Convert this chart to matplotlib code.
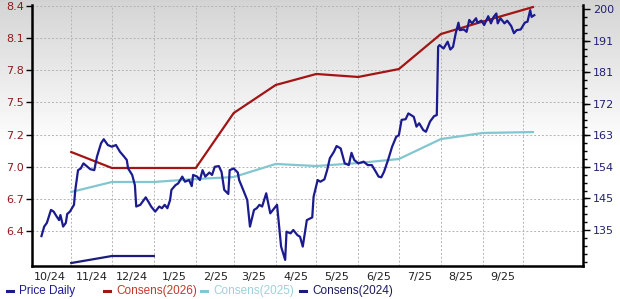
import numpy as np
import pandas as pd
import matplotlib
matplotlib.use('Agg')
import matplotlib.pyplot as plt
import matplotlib.dates as mdates
from matplotlib.lines import Line2D
from matplotlib.ticker import FixedLocator

start = pd.Timestamp('2024-10-01')

# ---price daily (days after 2024-10-01, $, right axis)---
price_day = [9, 11, 13, 16, 18, 20, 22, 23, 25, 27, 28, 30, 33, 34, 36, 38, 40, 43, 45, 48,
             50, 53, 55, 58, 61, 64, 67, 70, 72, 73, 76, 78, 79, 82, 86, 88, 90, 93, 96, 98,
             100, 102, 104, 105, 108, 110, 113, 115, 118, 120, 121, 124, 126, 128, 130, 133, 135, 137, 140, 142,
             144, 147, 148, 151, 154, 155, 158, 161, 163, 166, 168, 170, 172, 175, 178, 181, 183, 186, 189, 190,
             193, 195, 198, 200, 202, 205, 209, 210, 213, 215, 218, 220, 222, 225, 227, 230, 233, 236, 238, 240,
             243, 247, 250, 253, 256, 258, 260, 262, 265, 268, 271, 273, 275, 278, 280, 282, 284, 286, 288, 291,
             293, 296, 299, 301, 302, 303, 306, 309, 311, 313, 315, 317, 318, 321, 323, 325, 327, 330, 331, 334,
             336, 339, 341, 343, 345, 346, 348, 351, 353, 356, 358, 360, 363, 366, 368, 370, 371, 373]
price_val = [133.2, 136.0, 137.1, 140.9, 140.4, 139.1, 137.9, 139.4, 136.0, 137.1, 139.7, 140.4, 142.4, 146.8, 152.6, 153.1, 154.6, 153.6, 152.9, 152.6,
             156.6, 160.5, 161.7, 160.0, 159.5, 160.0, 158.0, 156.6, 155.6, 153.1, 151.2, 148.2, 141.9, 142.4, 144.6, 143.3, 141.9, 140.4, 141.9, 141.4,
             142.4, 141.4, 143.8, 146.8, 148.2, 148.7, 150.7, 149.2, 149.7, 147.9, 151.2, 150.7, 149.7, 152.6, 150.7, 151.9, 151.2, 153.6, 153.8, 152.1,
             146.8, 145.6, 152.6, 153.1, 151.9, 149.7, 146.8, 143.8, 136.0, 140.9, 141.4, 142.4, 141.9, 145.8, 139.9, 141.4, 142.4, 130.1, 126.2, 134.5,
             134.0, 135.0, 133.5, 133.0, 130.1, 137.9, 138.7, 144.8, 149.7, 149.2, 149.9, 152.6, 156.1, 158.0, 159.7, 159.0, 154.6, 154.1, 157.7, 155.6,
             154.6, 155.1, 154.1, 154.1, 152.1, 150.7, 150.5, 152.1, 155.6, 159.5, 162.4, 162.9, 167.4, 167.6, 169.3, 168.8, 168.3, 165.4, 166.4, 164.4,
             163.9, 166.9, 168.5, 168.8, 188.9, 189.4, 188.4, 190.4, 188.1, 188.9, 192.9, 196.0, 193.8, 194.0, 193.3, 196.8, 195.8, 197.3, 196.0, 196.6,
             195.3, 197.9, 195.8, 197.7, 198.7, 195.8, 197.3, 195.8, 196.6, 195.0, 192.9, 193.8, 194.0, 196.0, 196.3, 199.7, 197.7, 198.2]

# ---consensus EPS (left axis)---
cons_day = [31, 61, 92, 123, 151, 182, 212, 243, 273, 304, 335, 372]
cons_2026 = [7.128, 6.989, 6.989, 6.989, 7.468, 7.712, 7.808, 7.782, 7.851, 8.156, 8.265, 8.391]
cons_2025 = [6.780, 6.867, 6.867, 6.893, 6.910, 7.024, 7.006, 7.032, 7.067, 7.241, 7.294, 7.302]
cons24_day = [31, 61, 92]
cons_2024 = [6.161, 6.222, 6.222]

left_ticks = [6.44, 6.72, 7.00, 7.28, 7.56, 7.84, 8.12, 8.40]
left_labels = ['6.4', '6.7', '7.0', '7.2', '7.5', '7.8', '8.1', '8.4']
right_ticks = [135.0, 144.29, 153.57, 162.86, 172.14, 181.43, 190.71, 200.0]
right_labels = ['135', '145', '154', '163', '172', '181', '191', '200']
month_labels = ['10/24', '11/24', '12/24', '1/25', '2/25', '3/25', '4/25', '5/25', '6/25', '7/25', '8/25', '9/25']

legend_names = ['Price Daily', 'Consens(2026)', 'Consens(2025)', 'Consens(2024)']
c_price = '#1b1b8f'
c_26 = '#a31515'
c_25 = '#82c6cf'
c_24 = '#1c1c7e'

def to_dates(days):
    return start + pd.to_timedelta(days, unit='D')

fig = plt.figure(figsize=(6.2, 2.99), dpi=100)

# background gradient
bg = fig.add_axes([0, 0, 1, 1], zorder=-10)
rows = np.linspace(0, 1, 299)
shade = np.clip(0.83 + 0.17 * rows / 0.5, 0, 1).reshape(-1, 1)
bg.imshow(shade, cmap='gray', vmin=0, vmax=1, extent=[0, 1, 0, 1], aspect='auto')
bg.axis('off')

ax = fig.add_axes([32/620, 33/299, 551/620, 261/299])
ax.set_facecolor('none')
ax2 = ax.twinx()

ax.plot(to_dates(cons_day), cons_2026, color=c_26, lw=1.6, zorder=3)
ax.plot(to_dates(cons_day), cons_2025, color=c_25, lw=1.6, zorder=3)
ax.plot(to_dates(cons24_day), cons_2024, color=c_24, lw=1.6, zorder=3)
ax2.plot(to_dates(price_day), price_val, color=c_price, lw=1.6)

ax.set_xlim(to_dates([2])[0], to_dates([409])[0])
ax.set_ylim(6.135, 8.409)
ax2.set_ylim(124.4, 201.2)

# x axis: labels mid-month, grid on month starts
mid = pd.date_range('2024-10-01', '2025-09-01', freq='MS') + pd.Timedelta(days=15)
bounds = pd.date_range('2024-11-01', '2025-10-01', freq='MS')
ax.xaxis.set_major_locator(FixedLocator(mdates.date2num(mid)))
ax.set_xticklabels(month_labels)
ax.xaxis.set_minor_locator(FixedLocator(mdates.date2num(bounds)))
ax.tick_params(axis='x', which='both', length=0, pad=4, labelsize=8, labelcolor='#222222')

ax.yaxis.set_major_locator(FixedLocator(left_ticks))
ax.set_yticklabels(left_labels)
ax.tick_params(axis='y', length=4, width=1, pad=2, labelsize=8, labelcolor='#8b1c1c')

ax2.yaxis.set_major_locator(FixedLocator(right_ticks))
ax2.set_yticklabels(right_labels)
ax2.yaxis.set_minor_locator(FixedLocator(list(np.arange(124.4, 201.3, 65/28) - (124.4 - 135) % (65/28) + 0.0)))
ax2.tick_params(axis='y', which='major', length=5, width=1, pad=2, labelsize=8, labelcolor='#22226e')
ax2.tick_params(axis='y', which='minor', length=3, width=1)

ax.grid(which='minor', axis='x', color='#b4b4b4', ls=(0, (2, 2)), lw=0.7)
ax.grid(which='major', axis='y', color='#b4b4b4', ls=(0, (2, 2)), lw=0.7)
ax.grid(which='major', axis='x', visible=False)

for s in ['top', 'right']:
    ax.spines[s].set_visible(False)
for s in ['top', 'left', 'bottom']:
    ax2.spines[s].set_visible(False)
ax.spines['left'].set_linewidth(1.8)
ax.spines['bottom'].set_linewidth(1.8)
ax2.spines['right'].set_linewidth(1.8)

# legend row
leg_x = [10, 107, 204, 303]
leg_cols = [c_price, c_26, c_25, c_24]
leg_txt = ['#1b1b8f', '#c0392b', '#9fd0da', '#1c1c5e']
for x, name, c, tc in zip(leg_x, legend_names, leg_cols, leg_txt):
    fig.add_artist(Line2D([(x - 3)/620, (x + 3)/620], [8/299, 8/299], color=c, lw=2.2))
    fig.text((x + 9)/620, 8/299, name, color=tc, fontsize=8.5, family='Liberation Sans', va='center', ha='left')

plt.savefig('out.png', dpi=100)
